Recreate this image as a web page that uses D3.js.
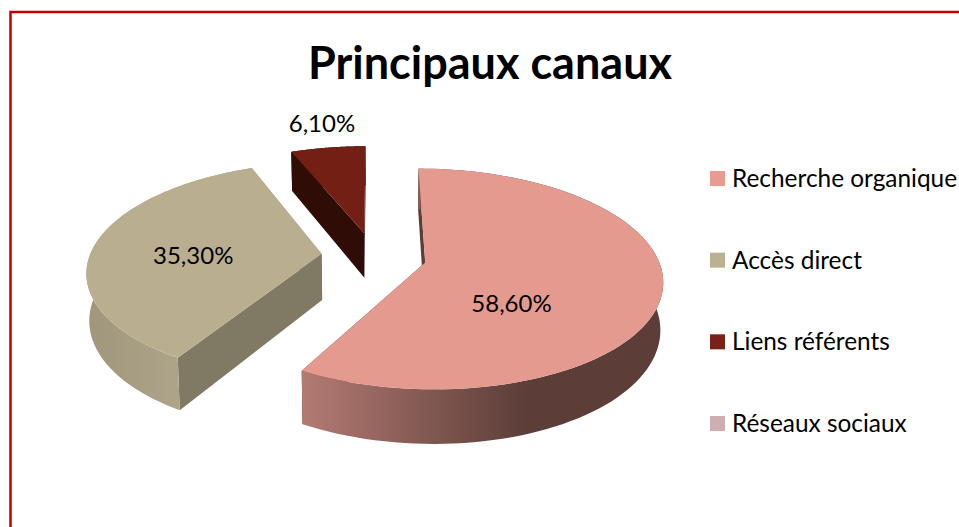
<!DOCTYPE html>
<html>
<head>
<meta charset="utf-8">
<script src="https://cdn.jsdelivr.net/npm/d3@7"></script>
<style>
  html, body { margin: 0; padding: 0; background: #fff; overflow: hidden; }
  text { font-family: Lato, "Open Sans", sans-serif; fill: #000; }
</style>
</head>
<body>
<div id="chart"></div>
<script>
// Donnees
const titleText = 'Principaux canaux';
const categories = ['Recherche organique', 'Accès direct', 'Liens référents', 'Réseaux sociaux'];
const shares = [58.6, 35.3, 6.1, 0];

const topColors = ['#e59a90', '#baae90', '#731f14', '#cfadb0'];
const legendColors = ['#ea9b90', '#bcb092', '#7a2018', '#cfadb0'];
const flatWallColors = ['#5c3d38', '#807a64', '#2f0c05', '#8a6f70'];
const arcWallStops = [
  [[0, '#b37b73'], [0.62, '#5c3d38'], [1, '#5c3d38']],
  [[0, '#9f967c'], [0.6, '#aea58b'], [1, '#aea58b']],
  [[0, '#2f0c05'], [1, '#2f0c05']],
  [[0, '#8a6f70'], [1, '#8a6f70']]
];

const config = {
  width: 959,
  height: 527,
  cx: 374,
  cy: 256,
  rx: 232,
  ry: 106,
  perspective: 0.148,
  depth: 46,
  bottomShrink: 0.99,
  explode: 0.227,
  startDeg: 0
};

// position des etiquettes dans le plan de la tarte : rayon, decalage d'angle (deg)
const labelPolar = [[0.49, 31], [0.555, -4.5], [1.34, 1], [0, 0]];
// la part rose est un peu plus courte a l'ecran que sa valeur (deg)
const endTrimDeg = [1.8, 0, 0, 0];

const svg = d3.select('#chart').append('svg')
  .attr('width', config.width)
  .attr('height', config.height);
const defs = svg.append('defs');

// Cadre rouge, coupe par le bord de la page
svg.append('rect')
  .attr('x', 10.5).attr('y', 12)
  .attr('width', 1100).attr('height', 800)
  .attr('fill', '#fff')
  .attr('stroke', '#c00000')
  .attr('stroke-width', 2.5);

svg.append('text')
  .attr('x', 490).attr('y', 79)
  .attr('text-anchor', 'middle')
  .attr('font-size', 45)
  .attr('font-weight', 'bold')
  .text(titleText);

function project(X, Y, lower) {
  const w = 1 - config.perspective * Y;
  const s = lower ? config.bottomShrink : 1;
  return [
    config.cx + s * config.rx * X / w,
    config.cy + config.ry * Y / w + (lower ? config.depth / w : 0)
  ];
}

const line = d3.line();
const pie = d3.pie().sort(null)
  .startAngle(config.startDeg * Math.PI / 180)
  .endAngle((config.startDeg + 360) * Math.PI / 180);
const arcs = pie(shares);

function drawSlice(layer, d, i) {
  if (d.value === 0) return;
  const mid = (d.startAngle + d.endAngle) / 2;
  const ox = config.explode * Math.sin(mid);
  const oy = -config.explode * Math.cos(mid);
  const endAngle = d.endAngle - endTrimDeg[i] * Math.PI / 180;
  const steps = d3.range(0, 101).map(k => d.startAngle + (endAngle - d.startAngle) * k / 100);
  const rimTop = steps.map(a => project(ox + Math.sin(a), oy - Math.cos(a), false));
  const rimLow = steps.map(a => project(ox + Math.sin(a), oy - Math.cos(a), true));
  const apexTop = project(ox, oy, false);
  const apexLow = project(ox, oy, true);

  const grad = defs.append('linearGradient').attr('id', `wall${i}`);
  grad.selectAll('stop').data(arcWallStops[i]).enter().append('stop')
    .attr('offset', s => s[0])
    .attr('stop-color', s => s[1]);

  const g = layer.append('g').attr('class', 'slice');
  // parois droites
  [[rimTop[0], rimLow[0]], [rimTop[100], rimLow[100]]].forEach(edge => {
    g.append('path')
      .attr('d', line([apexTop, edge[0], edge[1], apexLow]) + 'Z')
      .attr('fill', flatWallColors[i]);
  });
  // paroi courbe
  g.append('path')
    .attr('d', line(rimTop.concat(rimLow.slice().reverse())) + 'Z')
    .attr('fill', `url(#wall${i})`);
  // dessus
  g.append('path')
    .attr('d', line([apexTop].concat(rimTop)) + 'Z')
    .attr('fill', topColors[i]);
}

const pieLayer = svg.append('g').attr('class', 'pie');
// du fond vers l'avant
[2, 1, 0].forEach(i => drawSlice(pieLayer, arcs[i], i));

// Etiquettes de donnees
arcs.forEach((d, i) => {
  if (d.value === 0) return;
  const mid = (d.startAngle + d.endAngle) / 2;
  const a = mid + labelPolar[i][1] * Math.PI / 180;
  const r = labelPolar[i][0];
  const p = project(config.explode * Math.sin(mid) + r * Math.sin(a),
    -config.explode * Math.cos(mid) - r * Math.cos(a), false);
  svg.append('text')
    .attr('x', p[0]).attr('y', p[1])
    .attr('text-anchor', 'middle')
    .attr('dominant-baseline', 'central')
    .attr('font-size', 24)
    .text(d.value.toFixed(2).replace('.', ',') + '%');
});

// Legende
const legendY = d3.scalePoint().domain(categories).range([178.5, 423.5]);
const legend = svg.append('g').attr('class', 'legend');
legend.selectAll('rect').data(categories).enter().append('rect')
  .attr('x', 710).attr('y', d => legendY(d) - 7.5)
  .attr('width', 15).attr('height', 15)
  .attr('fill', (d, i) => legendColors[i]);
legend.selectAll('text').data(categories).enter().append('text')
  .attr('x', 732).attr('y', d => legendY(d) - 1)
  .attr('dominant-baseline', 'central')
  .attr('font-size', 24.4)
  .text(d => d);
</script>
</body>
</html>
